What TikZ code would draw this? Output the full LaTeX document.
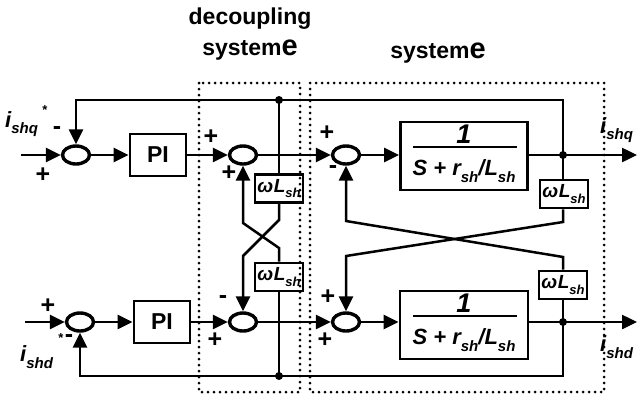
\documentclass[tikz,border=0pt]{standalone}
\usepackage{fontspec}
\setmainfont{Liberation Sans}
\usetikzlibrary{arrows.meta,shapes.geometric}
\newcommand\sbs[2][15]{\raisebox{-0.3em}{\fontsize{#1}{#1}\selectfont #2}}
\newcommand\bigE{{\fontsize{29}{29}\selectfont\bfseries e}}
\begin{document}
\begin{tikzpicture}[x=1pt,y=-1pt,
  ln/.style={line width=2.5pt},
  arr/.style={line width=2.5pt,-{Triangle[length=15pt,width=14pt]}},
  sumnode/.style={ellipse,draw,line width=3.4pt,minimum width=27pt,minimum height=18pt,inner sep=0pt},
  blk/.style={rectangle,draw,line width=2.8pt,inner sep=0pt},
  wbox/.style={blk,minimum width=48pt,minimum height=28pt,font=\fontsize{19}{19}\selectfont\bfseries\itshape},
  sgn/.style={font=\fontsize{25}{25}\selectfont\bfseries,inner sep=0pt},
  star/.style={font=\fontsize{13}{13}\selectfont\bfseries,inner sep=0pt},
  lab/.style={font=\fontsize{22}{22}\selectfont\bfseries\itshape,inner sep=0pt,anchor=west},
  dotbox/.style={line width=3pt,dash pattern=on 0pt off 6pt,line cap=round},
  jdot/.style={circle,fill,inner sep=0pt,minimum size=8pt},
  ttl/.style={font=\fontsize{23}{23}\selectfont\bfseries,inner sep=0pt},
  fr/.style={font=\fontsize{22}{22}\selectfont\bfseries\itshape,inner sep=0pt},
]
\useasboundingbox (0,0) rectangle (639,394);

% titles
\node[ttl] (t1) at (250,19) {decoupling};
\node[ttl] (t2) at (250,50) {system\bigE};
\node[ttl] (t3) at (438,53) {system\bigE};

% dotted frames
\draw[dotbox] (199,83) rectangle (300,392);
\draw[dotbox] (310,83) rectangle (604,392);

% summing junctions
\node[sumnode] (sq1) at (76,155) {};
\node[sumnode] (sq2) at (243,155) {};
\node[sumnode] (sq3) at (346,155) {};
\node[sumnode] (sd1) at (80,322) {};
\node[sumnode] (sd2) at (243,322) {};
\node[sumnode] (sd3) at (346,322) {};

% PI blocks
\node[blk,minimum width=56pt,minimum height=42pt,font=\fontsize{23}{23}\selectfont\bfseries] (piq) at (158,155) {PI};
\node[blk,minimum width=56pt,minimum height=42pt,font=\fontsize{23}{23}\selectfont\bfseries] (pid) at (162,322) {PI};

% plant blocks
\node[blk,minimum width=127pt,minimum height=68pt] (gq) at (464,156) {};
\node[blk,minimum width=128pt,minimum height=68pt] (gd) at (464,325) {};
\node[fr,font=\fontsize{27}{27}\selectfont\bfseries\itshape] (nq) at (464,134) {1};
\node[fr] (dq) at (464,171) {S + r\sbs{sh}/L\sbs{sh}};
\draw[line width=2.6pt] (413,147) -- (517,147);
\node[fr,font=\fontsize{27}{27}\selectfont\bfseries\itshape] (nd) at (464,303) {1};
\node[fr] (dd) at (464,340) {S + r\sbs{sh}/L\sbs{sh}};
\draw[line width=2.6pt] (413,316) -- (517,316);

% omega L blocks
\node[wbox] (wq2) at (279,188.5) {ω\kern0.5pt L\sbs[13]{sh}};
\node[wbox] (wd2) at (279,277) {ω\kern0.5pt L\sbs[13]{sh}};
\node[wbox] (wq) at (564,194) {ω\kern0.5pt L\sbs[13]{sh}};
\node[wbox] (wd) at (563,285) {ω\kern0.5pt L\sbs[13]{sh}};

% junction dots
\node[jdot] (tq) at (279,100) {};
\node[jdot] (bd) at (279,376) {};
\node[jdot] (oq) at (563,155) {};
\node[jdot] (od) at (563,322) {};

\coordinate (inq) at (21,155);
\coordinate (ind) at (25,322);
\coordinate (endq) at (637,155);
\coordinate (endd) at (637,322);

% q channel
\draw[arr] (inq) -- (sq1);
\draw[arr] (sq1) -- (piq);
\draw[arr] (piq) -- (sq2);
\draw[arr] (sq2) -- (sq3);
\draw[arr] (sq3) -- (sq3 -| gq.west);
\draw[ln] (gq.east |- oq) -- (oq.center);
\draw[arr] (oq.center) -- (endq);
\draw[arr] (oq.center) |- (tq.center) -| (sq1.north);

% d channel
\draw[arr] (ind) -- (sd1);
\draw[arr] (sd1) -- (pid);
\draw[arr] (pid) -- (sd2);
\draw[arr] (sd2) -- (sd3);
\draw[arr] (sd3) -- (sd3 -| gd.west);
\draw[ln] (gd.east |- od) -- (od.center);
\draw[arr] (od.center) -- (endd);
\draw[arr] (od.center) |- (bd.center) -| (sd1.south);

% decoupling links
\draw[ln] (tq.center) -- (wq2.north);
\draw[ln] (bd.center) -- (wd2.south);
\draw[arr] (wd2.north) -- (279,248) -- (243,223) -- (sq2.south);
\draw[arr] (wq2.south) -- (279,220) -- (243,256) -- (sd2.north);

% plant coupling
\draw[ln] (oq.center) -- (oq |- wq.north);
\draw[ln] (od.center) -- (wd.south);
\draw[arr] (oq |- wq.south) -- (563,222) -- (346,256) -- (sd3.north);
\draw[arr] (wd.north) -- (563,257) -- (346,221) -- (sq3.south);

% signs
\node[sgn] (g1) at (57,131) {-};
\node[sgn] (g2) at (43,175) {+};
\node[sgn] (g3) at (211,137) {+};
\node[sgn] (g4) at (229,173) {+};
\node[sgn] (g5) at (327,133) {+};
\node[sgn] (g6) at (333,170) {-};
\node[sgn] (g7) at (48,306) {+};
\node[sgn] (g8) at (69,339) {-};
\node[sgn] (g9) at (223,300) {-};
\node[sgn] (g10) at (215,340) {+};
\node[sgn] (g11) at (328,297) {+};
\node[sgn] (g12) at (325,340) {+};

% signal labels
\node[lab] (liq) at (5,124) {i\sbs{shq}};
\node[star] (sq) at (45,110) {*};
\node[lab] (lid) at (20,357) {i\sbs{shd}};
\node[star] (sd) at (61,338) {*};
\node[lab] (loq) at (600,130) {i\sbs{shq}};
\node[lab] (lod) at (600,347) {i\sbs{shd}};
\end{tikzpicture}
\end{document}
